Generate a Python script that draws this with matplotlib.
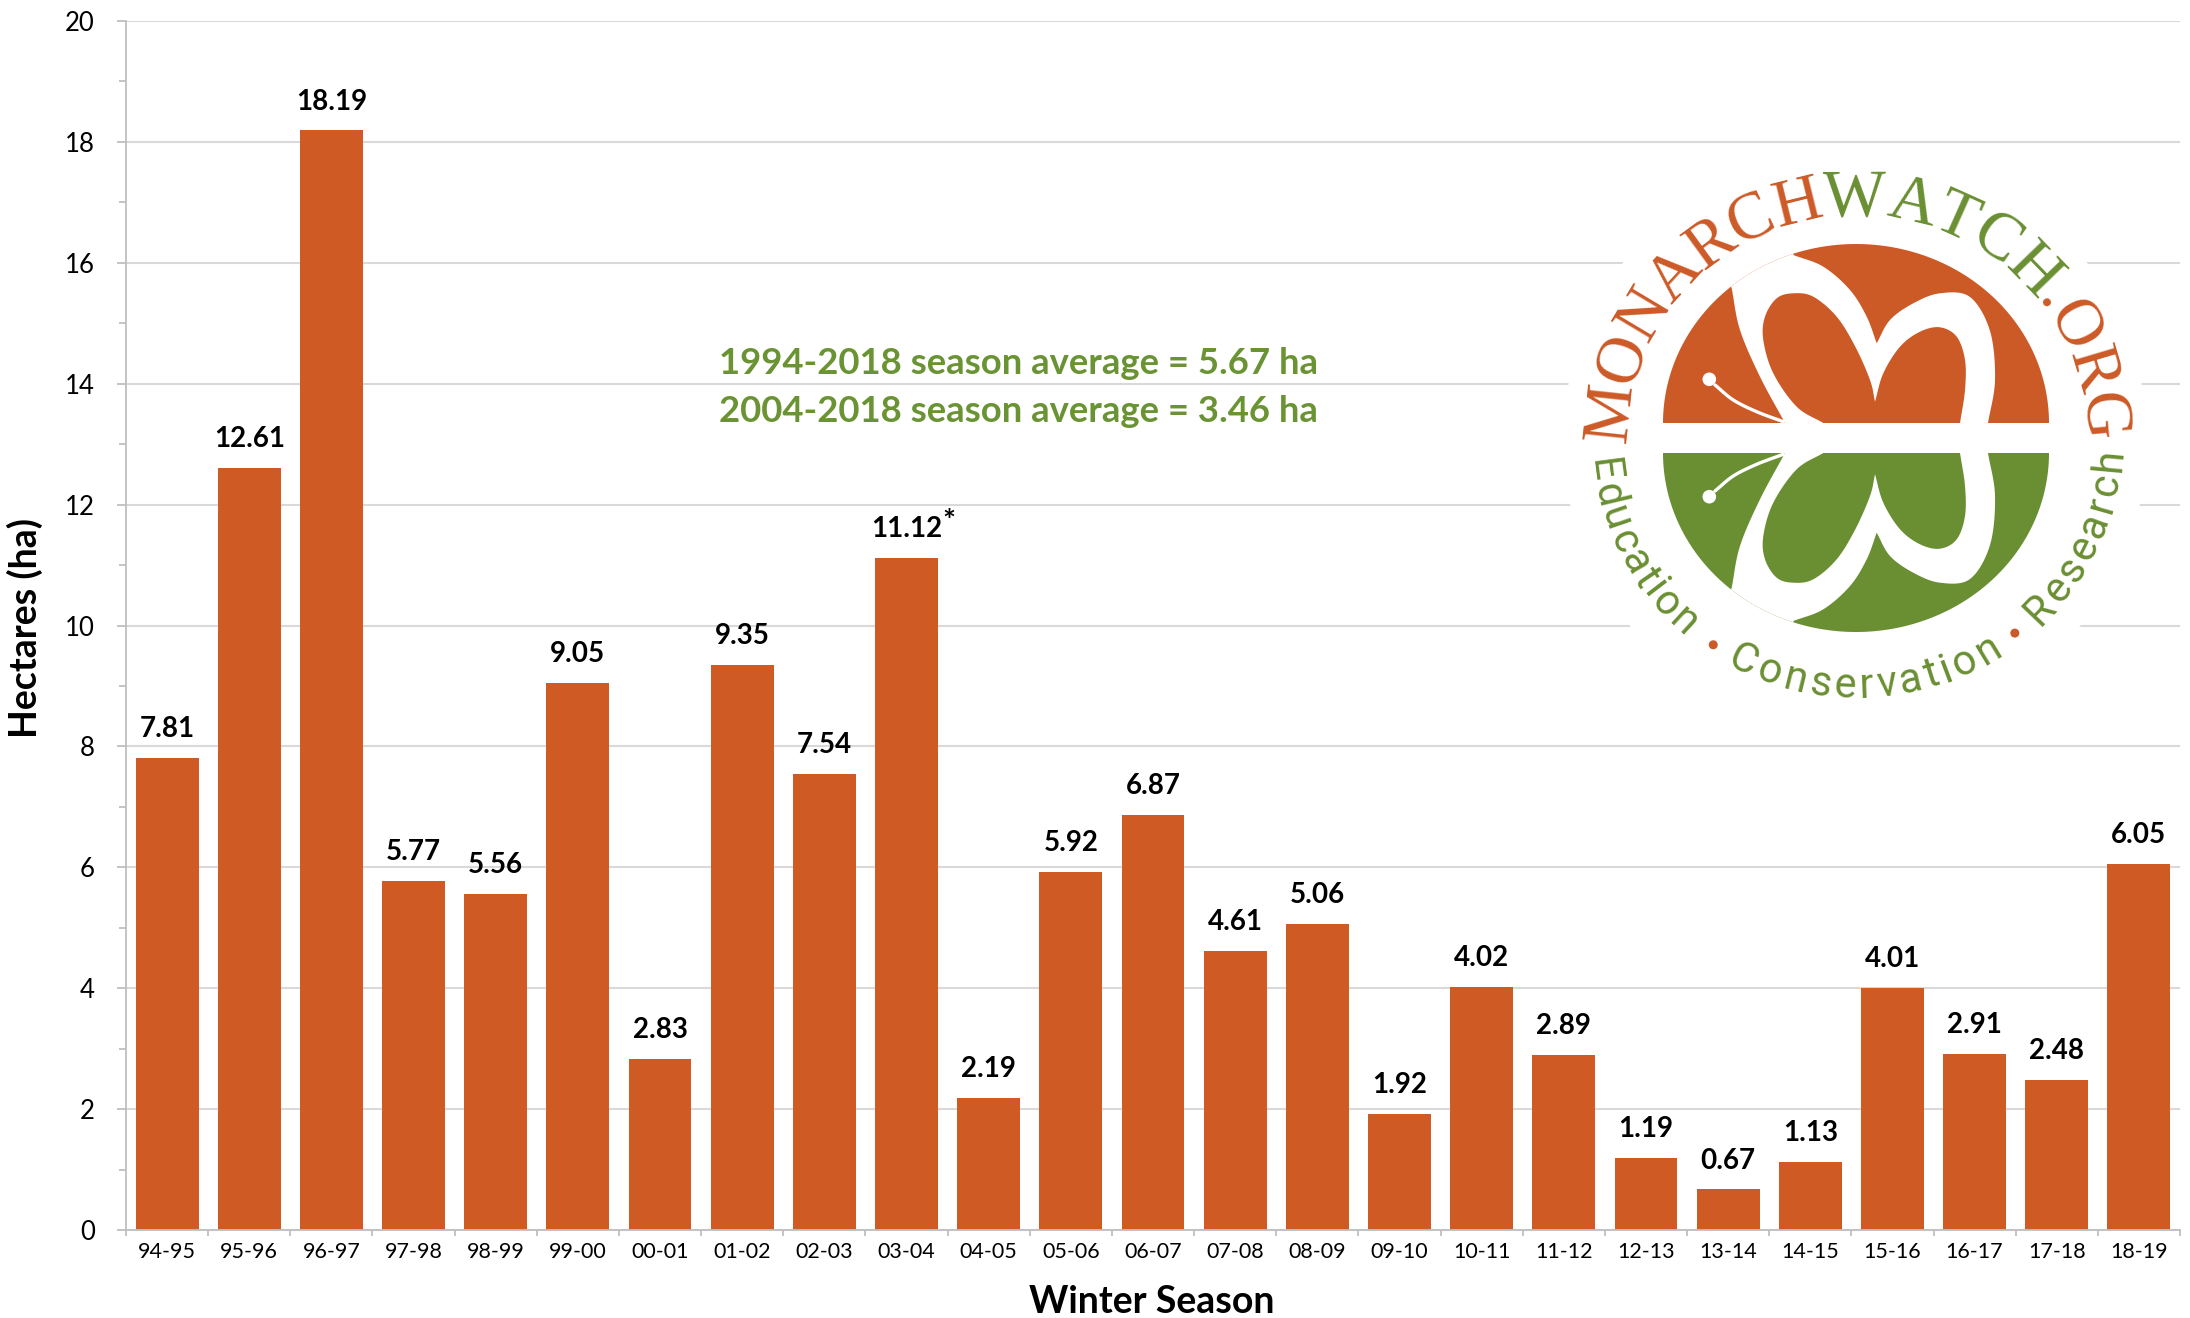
import numpy as np
import matplotlib
matplotlib.use('Agg')
import matplotlib.pyplot as plt
from matplotlib.patches import Polygon, Circle
from matplotlib.font_manager import FontProperties

# ---------------- data ----------------
seasons = ['94-95', '95-96', '96-97', '97-98', '98-99', '99-00', '00-01', '01-02',
           '02-03', '03-04', '04-05', '05-06', '06-07', '07-08', '08-09', '09-10',
           '10-11', '11-12', '12-13', '13-14', '14-15', '15-16', '16-17', '17-18', '18-19']
hectares = [7.81, 12.61, 18.19, 5.77, 5.56, 9.05, 2.83, 9.35, 7.54, 11.12, 2.19, 5.92,
            6.87, 4.61, 5.06, 1.92, 4.02, 2.89, 1.19, 0.67, 1.13, 4.01, 2.91, 2.48, 6.05]
footnote_marks = ['', '', '', '', '', '', '', '', '', '*', '', '', '', '', '', '', '',
                  '', '', '', '', '', '', '', '']
y_major = list(range(0, 21, 2))
y_minor = list(range(1, 20, 2))
avg_labels = ['1994-2018 season average = 5.67 ha',
              '2004-2018 season average = 3.46 ha']
y_title = 'Hectares (ha)'
x_title = 'Winter Season'

BAR = '#CF5A23'
GREEN = '#6A9334'
L_OR = '#CC5A27'
L_GR = '#6A8F32'
GRID = '#D9D9D9'
AXC = '#BFBFBF'

plt.rcParams['font.family'] = ['Lato', 'DejaVu Sans']

W, H = 2190, 1318
fig = plt.figure(figsize=(W / 100, H / 100), dpi=100)
ax = fig.add_axes([126 / W, 88 / H, 2054 / W, 1209 / H])

x = np.arange(len(seasons))
ax.bar(x, hectares, width=0.765, color=BAR, zorder=2)
ax.set_xlim(-0.5, len(seasons) - 0.5)
ax.set_ylim(0, 20)
ax.set_yticks(y_major)
ax.set_yticks(y_minor, minor=True)
ax.set_xticks(np.arange(-0.5, len(seasons), 1))
ax.set_xticklabels([])
ax.set_xticks(x, minor=True)
ax.set_xticklabels(seasons, minor=True)
ax.tick_params(axis='x', which='major', length=4.5, width=1.3, color=AXC)
ax.tick_params(axis='x', which='minor', length=0, pad=9, labelsize=15.5)
ax.tick_params(axis='y', which='major', length=6.5, width=1.3, color=AXC, pad=16, labelsize=18.5)
ax.tick_params(axis='y', which='minor', length=5, width=1.3, color=AXC)
ax.yaxis.grid(True, which='major', color=GRID, lw=1.5)
ax.set_axisbelow(True)
for s in ['top', 'right']:
    ax.spines[s].set_visible(False)
for s in ['left', 'bottom']:
    ax.spines[s].set_color(AXC)
    ax.spines[s].set_linewidth(1.3)

for i, (v, mk) in enumerate(zip(hectares, footnote_marks)):
    ax.annotate(f'{v:.2f}', (i, v), xytext=(0, 15), textcoords='offset points',
                ha='center', va='baseline', fontsize=20, fontweight='bold')
    if mk:
        ax.annotate(mk, (i, v), xytext=(30.5, 19), textcoords='offset points',
                    ha='center', va='baseline', fontsize=22, fontweight='bold')

fig.text(25 / W, 1 - 628 / H, y_title, rotation=90, ha='center', va='center',
         fontsize=27, fontweight='bold')
fig.text(1152 / W, 1 - 1302 / H, x_title, ha='center', va='center',
         fontsize=27, fontweight='bold')
for k, lab in enumerate(avg_labels):
    fig.text(719 / W, 1 - (363 + 48 * k) / H, lab, ha='left', va='center',
             fontsize=26.3, fontweight='bold', color=GREEN)

# ---------------- logo ----------------
lx = fig.add_axes([0, 0, 1, 1])
lx.set_xlim(0, W)
lx.set_ylim(H, 0)
lx.axis('off')
lx.patch.set_alpha(0)

cx, band_top, band_bot, cy = 1856, 423, 453, 438
rx, ry = 193, 179
lx.add_patch(Circle((1855, 440), 292, facecolor='white', edgecolor='none', zorder=0))


def cr(points, n=16):
    P = np.asarray(points, float)
    P = np.vstack([2 * P[0] - P[1], P, 2 * P[-1] - P[-2]])
    out = []
    for i in range(1, len(P) - 2):
        p0, p1, p2, p3 = P[i - 1:i + 3]
        t = np.linspace(0, 1, n, endpoint=False)[:, None]
        out.append(0.5 * (2 * p1 + (-p0 + p2) * t + (2 * p0 - 5 * p1 + 4 * p2 - p3) * t ** 2
                          + (-p0 + 3 * p1 - 3 * p2 + p3) * t ** 3))
    out.append(P[-2][None])
    return np.vstack(out)


ribbon_shape = np.vstack([
    cr([(-71, 0), (-96, 46.3), (-116, 93), (-124.3, 134.7)]),
    [(-150, 200), (-60, 215)],
    cr([(-62.7, 168), (-32.7, 156.3), (-6, 133), (10.7, 106.3), (20.7, 79.7)]),
    cr([(20.7, 79.7), (34, 103), (57.3, 119.7), (84, 129.7), (114, 126), (134, 92), (139, 43), (132, 0)]),
])
heart_shape = np.vstack([
    cr([(-32.7, 0), (-59.3, 16.3), (-82.7, 49.7), (-92.7, 83), (-91, 106.3), (-79.3, 124.7),
        (-62.7, 129.7), (-42.7, 126.3), (-19.3, 106.3), (-0.7, 76.3), (14, 43), (19, 21.3)]),
    cr([(19, 21.3), (27.3, 49.7), (44, 76.3), (64, 91.3), (84, 95.7), (100.7, 86.3),
        (109, 63), (109, 33), (104, 0)]),
])
antenna = cr([(-141, 38), (-122.7, 23), (-99.3, 11.3), (-72.7, 1.3)])


def place(pts, base, sign):
    p = np.asarray(pts, float)
    return np.column_stack([cx + p[:, 0], base - sign * p[:, 1]])


tt = np.linspace(0, np.pi, 240)
for base, sign, col in [(band_top, 1, L_OR), (band_bot, -1, L_GR)]:
    disk = Polygon(np.column_stack([cx + rx * np.cos(tt), base - sign * ry * np.sin(tt)]),
                   closed=True, facecolor=col, edgecolor='none', zorder=1)
    lx.add_patch(disk)
    rib = Polygon(place(ribbon_shape, base, sign), closed=True, facecolor='white',
                  edgecolor='none', zorder=2)
    lx.add_patch(rib)
    rib.set_clip_path(disk)
    lx.add_patch(Polygon(place(heart_shape, base, sign), closed=True, facecolor=col,
                         edgecolor='none', zorder=3))
    a = place(antenna, base, sign)
    lx.plot(a[:, 0], a[:, 1], color='white', lw=2.4, solid_capstyle='round', zorder=4)
    lx.add_patch(Circle((cx - 146.7, base - sign * 43.7), 6.8, facecolor='white',
                        edgecolor='none', zorder=4))

renderer = fig.canvas.get_renderer()


def widths(s, fp):
    return np.array([renderer.get_text_width_height_descent(c, fp, ismath=False)[0] for c in s])


def angles(s, fp, a0, a1, r):
    w = widths(s, fp)
    if len(s) == 1:
        return np.array([a0])
    steps = (w[:-1] + w[1:]) / 2
    L = r * np.radians(abs(a1 - a0))
    track = (L - steps.sum()) / (len(s) - 1)
    cum = np.concatenate([[0], np.cumsum(steps + track)])
    return a0 + (a1 - a0) * cum / cum[-1]


fp_top = FontProperties(family='Liberation Serif', size=48)
top_words = [('MONARCH', L_OR), ('WATCH', L_GR), ('.ORG', L_OR)]
top_text = ''.join(w for w, _ in top_words)
top_cols = [c for w, c in top_words for _ in w]
ang = angles(top_text, fp_top, 174, 5.2, 245)
rbx, rby = 229, 223
for ch, a, c in zip(top_text, ang, top_cols):
    t = np.radians(a)
    lx.text(cx + rbx * np.cos(t), cy - rby * np.sin(t), ch, rotation=a - 90,
            rotation_mode='anchor', ha='center', va='baseline', fontproperties=fp_top,
            color=c, zorder=5)

fp_bot = FontProperties(family='Roboto', size=30)
bottom_words = [('Education', 187.5, 227.4), ('Conservation', 243.6, 301.2),
                ('Research', 316.3, 354.8)]
rbx2, rby2 = 266, 260
for word, a0, a1 in bottom_words:
    ang = angles(word, fp_bot, a0, a1, 252)
    for ch, a in zip(word, ang):
        t = np.radians(a)
        lx.text(cx + rbx2 * np.cos(t), cy - rby2 * np.sin(t), ch, rotation=a + 90,
                rotation_mode='anchor', ha='center', va='baseline', fontproperties=fp_bot,
                color=L_GR, zorder=5)
for a in [235.8, 308.7]:
    t = np.radians(a)
    lx.add_patch(Circle((cx + 254 * np.cos(t), cy - 250 * np.sin(t)), 4.5,
                        facecolor=L_OR, edgecolor='none', zorder=5))

fig.savefig('out.png', dpi=100)
